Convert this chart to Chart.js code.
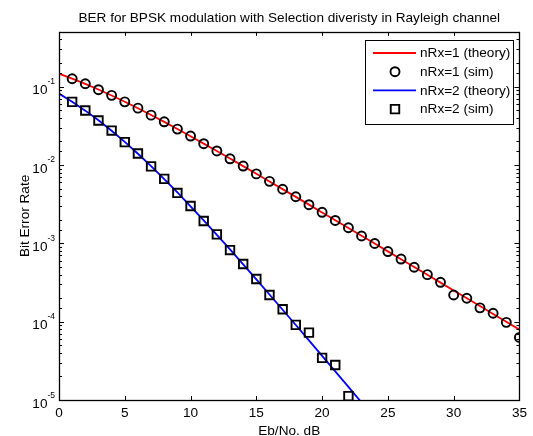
<!DOCTYPE html>
<html>
<head>
<meta charset="utf-8">
<script src="https://cdn.jsdelivr.net/npm/chart.js@4"></script>
<style>
  html, body { margin: 0; padding: 0; background: #fff; }
  canvas { display: block; }
</style>
</head>
<body>
<canvas id="ber-chart" width="533" height="436"></canvas>
<script>
// Eb/No points (dB)
const ebnoTheory1 = [0, 1, 2, 3, 4, 5, 6, 7, 8, 9, 10, 11, 12, 13, 14, 15, 16, 17,
  18, 19, 20, 21, 22, 23, 24, 25, 26, 27, 28, 29, 30, 31, 32, 33, 34, 35];
const berTheory1 = [0.1464, 0.1267, 0.1085, 0.0919, 0.0771, 0.0642, 0.0530, 0.0435,
  0.0355, 0.0288, 0.0233, 0.01875, 0.01507, 0.01208, 0.00967, 0.00772, 0.00616,
  0.00492, 0.00392, 0.00312, 0.00248, 0.00197, 0.00157, 0.00125, 0.000992,
  0.000789, 0.000627, 0.000498, 0.000396, 0.000315, 0.00025, 0.000199, 0.000158,
  0.000125, 0.0000995, 0.0000791];

const ebnoSim1 = [1, 2, 3, 4, 5, 6, 7, 8, 9, 10, 11, 12, 13, 14, 15, 16, 17, 18,
  19, 20, 21, 22, 23, 24, 25, 26, 27, 28, 29, 30, 31, 32, 33, 34, 35];
const berSim1 = [0.1262, 0.1089, 0.0915, 0.0775, 0.0640, 0.0532, 0.0433, 0.0356,
  0.0287, 0.0234, 0.0187, 0.0151, 0.0120, 0.00970, 0.00770, 0.00618, 0.00490,
  0.00393, 0.00311, 0.00249, 0.00196, 0.00158, 0.00124, 0.000995, 0.000785,
  0.000630, 0.000495, 0.000398, 0.000318, 0.000219, 0.000199, 0.000150,
  0.000128, 0.0000980, 0.0000630];

const ebnoTheory2 = [0, 1, 2, 3, 4, 5, 6, 7, 8, 9, 10, 11, 12, 13, 14, 15, 16, 17,
  18, 19, 20, 21, 22, 23];
const berTheory2 = [0.0816, 0.0642, 0.0494, 0.0372, 0.0274, 0.0197, 0.0139, 0.00967,
  0.00661, 0.00446, 0.00297, 0.00196, 0.00128, 0.000835, 0.000540, 0.000347,
  0.000222, 0.000142, 0.0000906, 0.0000576, 0.0000366, 0.0000232, 0.0000147,
  0.0000093];

const ebnoSim2 = [1, 2, 3, 4, 5, 6, 7, 8, 9, 10, 11, 12, 13, 14, 15, 16, 17, 18,
  19, 20, 21, 22];
const berSim2 = [0.0640, 0.0496, 0.0370, 0.0275, 0.0196, 0.0140, 0.00960, 0.00665,
  0.00440, 0.00300, 0.00193, 0.00130, 0.000820, 0.000545, 0.000350, 0.000219,
  0.000144, 0.0000910, 0.0000725, 0.0000345, 0.0000280, 0.0000112];

const seriesLabels = ["nRx=1 (theory)", "nRx=1 (sim)", "nRx=2 (theory)", "nRx=2 (sim)"];

const FONT = "'Liberation Sans', Arial, Helvetica, sans-serif";
const FS = 13.6;

function toPoints(xs, ys) {
  return xs.map((x, i) => ({ x: x, y: ys[i] }));
}

function isDecade(v) {
  const l = Math.log10(v);
  return Math.abs(l - Math.round(l)) < 1e-9;
}

// matlab style box, inward ticks, 10^n labels and legend
const matlabAxes = {
  id: "matlabAxes",
  afterDraw(chart) {
    const { ctx, chartArea: a } = chart;
    const xs = chart.scales.x;
    const ys = chart.scales.y;
    ctx.save();
    ctx.strokeStyle = "#000";
    ctx.lineWidth = 1;

    // ticks
    ctx.beginPath();
    xs.ticks.forEach((t) => {
      const px = Math.round(xs.getPixelForValue(t.value)) + 0.5;
      ctx.moveTo(px, a.bottom);
      ctx.lineTo(px, a.bottom - 4);
      ctx.moveTo(px, a.top);
      ctx.lineTo(px, a.top + 4);
    });
    ys.ticks.forEach((t) => {
      const py = Math.round(ys.getPixelForValue(t.value)) + 0.5;
      const len = isDecade(t.value) ? 5 : 3;
      ctx.moveTo(a.left, py);
      ctx.lineTo(a.left + len, py);
      ctx.moveTo(a.right, py);
      ctx.lineTo(a.right - len, py);
    });
    ctx.stroke();

    // box
    ctx.lineWidth = 1.3;
    ctx.strokeRect(Math.round(a.left) + 0.5, Math.round(a.top) + 0.5,
      Math.round(a.right - a.left), Math.round(a.bottom - a.top));

    // y tick labels 10^n
    ctx.fillStyle = "#000";
    ys.ticks.filter((t) => isDecade(t.value)).forEach((t) => {
      const py = ys.getPixelForValue(t.value);
      const exp = String(Math.round(Math.log10(t.value)));
      ctx.font = "8.5px " + FONT;
      const ew = ctx.measureText(exp).width;
      const ex = a.left - 4 - ew;
      ctx.textAlign = "left";
      ctx.textBaseline = "alphabetic";
      ctx.fillText(exp, ex, py - 2.5);
      ctx.font = FS + "px " + FONT;
      ctx.textAlign = "right";
      ctx.textBaseline = "middle";
      ctx.fillText("10", ex, py + 4);
    });

    // legend
    const lx = 365, ly = 40, lw = 148, lh = 84;
    ctx.fillStyle = "#fff";
    ctx.fillRect(lx, ly, lw, lh);
    ctx.lineWidth = 1;
    ctx.strokeStyle = "#000";
    ctx.strokeRect(lx + 0.5, ly + 0.5, lw, lh);
    chart.data.datasets.forEach((ds, i) => {
      const cy = ly + 13 + i * 18.7;
      if (ds.showLine !== false) {
        ctx.strokeStyle = ds.borderColor;
        ctx.lineWidth = ds.borderWidth;
        ctx.beginPath();
        ctx.moveTo(lx + 8, cy);
        ctx.lineTo(lx + 51, cy);
        ctx.stroke();
      } else {
        ctx.fillStyle = "rgba(0,0,0,0)";
        ctx.strokeStyle = ds.pointBorderColor;
        ctx.lineWidth = ds.pointBorderWidth;
        Chart.helpers.drawPoint(ctx, {
          pointStyle: ds.pointStyle,
          radius: ds.pointRadius,
          borderWidth: ds.pointBorderWidth,
          rotation: 0
        }, lx + 30, cy);
      }
      ctx.fillStyle = "#000";
      ctx.font = FS + "px " + FONT;
      ctx.textAlign = "left";
      ctx.textBaseline = "middle";
      ctx.fillText(ds.label, lx + 55, cy + 0.5);
    });
    ctx.restore();
  }
};

new Chart(document.getElementById("ber-chart"), {
  type: "line",
  data: {
    datasets: [
      {
        label: seriesLabels[0],
        data: toPoints(ebnoTheory1, berTheory1),
        borderColor: "rgb(255, 0, 0)",
        borderWidth: 1.8,
        pointRadius: 0,
        order: 4
      },
      {
        label: seriesLabels[1],
        data: toPoints(ebnoSim1, berSim1),
        showLine: false,
        pointStyle: "circle",
        pointRadius: 4.5,
        pointBorderWidth: 1.9,
        pointBorderColor: "#000",
        pointBackgroundColor: "rgba(0,0,0,0)",
        order: 1
      },
      {
        label: seriesLabels[2],
        data: toPoints(ebnoTheory2, berTheory2),
        borderColor: "rgb(0, 0, 255)",
        borderWidth: 1.8,
        pointRadius: 0,
        order: 3
      },
      {
        label: seriesLabels[3],
        data: toPoints(ebnoSim2, berSim2),
        showLine: false,
        pointStyle: "rect",
        pointRadius: 6,
        pointBorderWidth: 1.9,
        pointBorderColor: "#000",
        pointBackgroundColor: "rgba(0,0,0,0)",
        order: 2
      }
    ]
  },
  options: {
    responsive: false,
    animation: false,
    layout: { padding: { left: 0, right: 8, top: 0, bottom: 0 } },
    plugins: {
      legend: { display: false },
      tooltip: { enabled: false },
      title: {
        display: true,
        fullSize: false,
        text: "BER for BPSK modulation with Selection diveristy in Rayleigh channel",
        color: "#000",
        font: { family: FONT, size: FS, weight: "normal", lineHeight: 1 },
        padding: { top: 11, bottom: 7.3 }
      }
    },
    scales: {
      x: {
        type: "linear",
        min: 0,
        max: 35,
        grid: { display: false, drawTicks: false },
        border: { display: false },
        ticks: {
          stepSize: 5,
          color: "#000",
          padding: 6,
          maxRotation: 0,
          font: { family: FONT, size: FS, lineHeight: 1 }
        },
        title: {
          display: true,
          text: "Eb/No. dB",
          color: "#000",
          font: { family: FONT, size: FS, lineHeight: 1 },
          padding: { top: 0, bottom: -2 }
        },
        afterFit: (scale) => { scale.height = 36; }
      },
      y: {
        type: "logarithmic",
        min: 1e-5,
        max: 0.5,
        grid: { display: false, drawTicks: false },
        border: { display: false },
        ticks: { display: false },
        title: {
          display: true,
          text: "Bit Error Rate",
          color: "#000",
          font: { family: FONT, size: FS, lineHeight: 1 },
          padding: { top: 18, bottom: 0 }
        },
        afterFit: (scale) => { scale.width = 59; }
      }
    }
  },
  plugins: [matlabAxes]
});
</script>
</body>
</html>
